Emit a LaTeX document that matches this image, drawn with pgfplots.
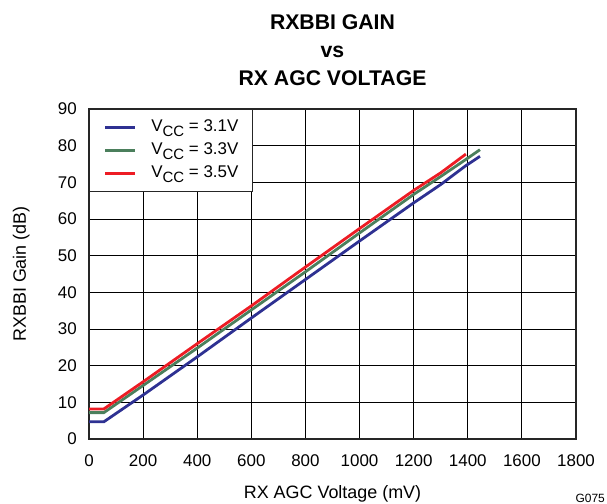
\documentclass[border=0pt]{standalone}
\usepackage{pgfplots}
\pgfplotsset{compat=1.18}
\usepackage{fontspec}
\setmainfont{Liberation Sans}
\definecolor{cblue}{HTML}{2E3192}
\definecolor{cgreen}{HTML}{4B7F5C}
\definecolor{cred}{HTML}{ED1C24}
\newcommand{\vcc}{V\raisebox{-4.5bp}{\fontsize{15}{15}\selectfont CC}}
\begin{document}
\begin{tikzpicture}
\useasboundingbox (0,0) rectangle (607bp,504bp);
\begin{axis}[
  at={(89bp,65bp)}, anchor=south west,
  scale only axis, width=487bp, height=330bp,
  xmin=0, xmax=1800, ymin=0, ymax=90,
  xtick={0,200,...,1800}, ytick={0,10,...,90},
  major tick length=0pt,
  grid=major,
  major grid style={black, line width=0.9bp},
  axis line style={black!85, line width=1.3bp},
  /pgf/number format/assume math mode=true,
  /pgf/number format/set thousands separator={},
  tick label style={font=\fontsize{17}{19}\selectfont},
  xticklabel style={anchor=base, inner sep=0pt, yshift=-27bp},
  yticklabel style={anchor=east, inner sep=0pt, xshift=-12bp},
  xlabel={RX AGC Voltage (mV)},
  ylabel={RXBBI Gain (dB)},
  label style={font=\fontsize{18}{20}\selectfont},
  xlabel style={at={(axis description cs:0.5,0)}, anchor=base, inner sep=0pt, yshift=-59bp},
  ylabel style={at={(axis description cs:-0.1294,0.5)}, anchor=base, inner sep=0pt},
  title={RXBBI GAIN\\vs\\RX AGC VOLTAGE},
  title style={font=\bfseries\fontsize{21.3}{28}\selectfont, align=center, at={(axis description cs:0.5,1)}, anchor=south, inner sep=0pt, yshift=17bp},
  legend style={at={(0,1)}, anchor=north west, draw=black!85, line width=1.2bp,
    font=\fontsize{17}{19}\selectfont, fill=white,
    inner xsep=14bp, inner ysep=9.5bp, row sep=6bp,
    nodes={inner sep=0pt, text height=12.5bp, text depth=4.5bp},
    /tikz/every odd column/.append style={column sep=15bp}},
  legend cell align=left,
  legend image code/.code={\draw[#1] (0bp,0bp) -- (30bp,0bp);},
  clip=false,
]
\addplot[cblue, line width=2.8bp] coordinates {
(0,4.7) (55,4.7) (200,12.0) (400,22.4) (600,33.0) (800,43.5) (1000,54.0)
(1200,64.4) (1300,69.4) (1390,74.4) (1445,77.1)};
\addlegendentry{\vcc{} = 3.1V}
\addplot[cgreen, line width=2.8bp] coordinates {
(0,7.2) (55,7.2) (200,14.6) (400,24.8) (600,35.2) (800,45.6) (1000,56.2)
(1200,66.7) (1300,71.6) (1400,76.6) (1445,78.9)};
\addlegendentry{\vcc{} = 3.3V}
\addplot[cred, line width=2.8bp] coordinates {
(0,8.2) (55,8.2) (200,15.6) (400,26.0) (600,36.3) (800,46.9) (1000,57.4)
(1200,67.8) (1300,72.6) (1393,77.7)};
\addlegendentry{\vcc{} = 3.5V}
\end{axis}
\node[anchor=base east, inner sep=0pt, font=\fontsize{12}{12}\selectfont] at (605bp,1.5bp) {G075};
\end{tikzpicture}
\end{document}
